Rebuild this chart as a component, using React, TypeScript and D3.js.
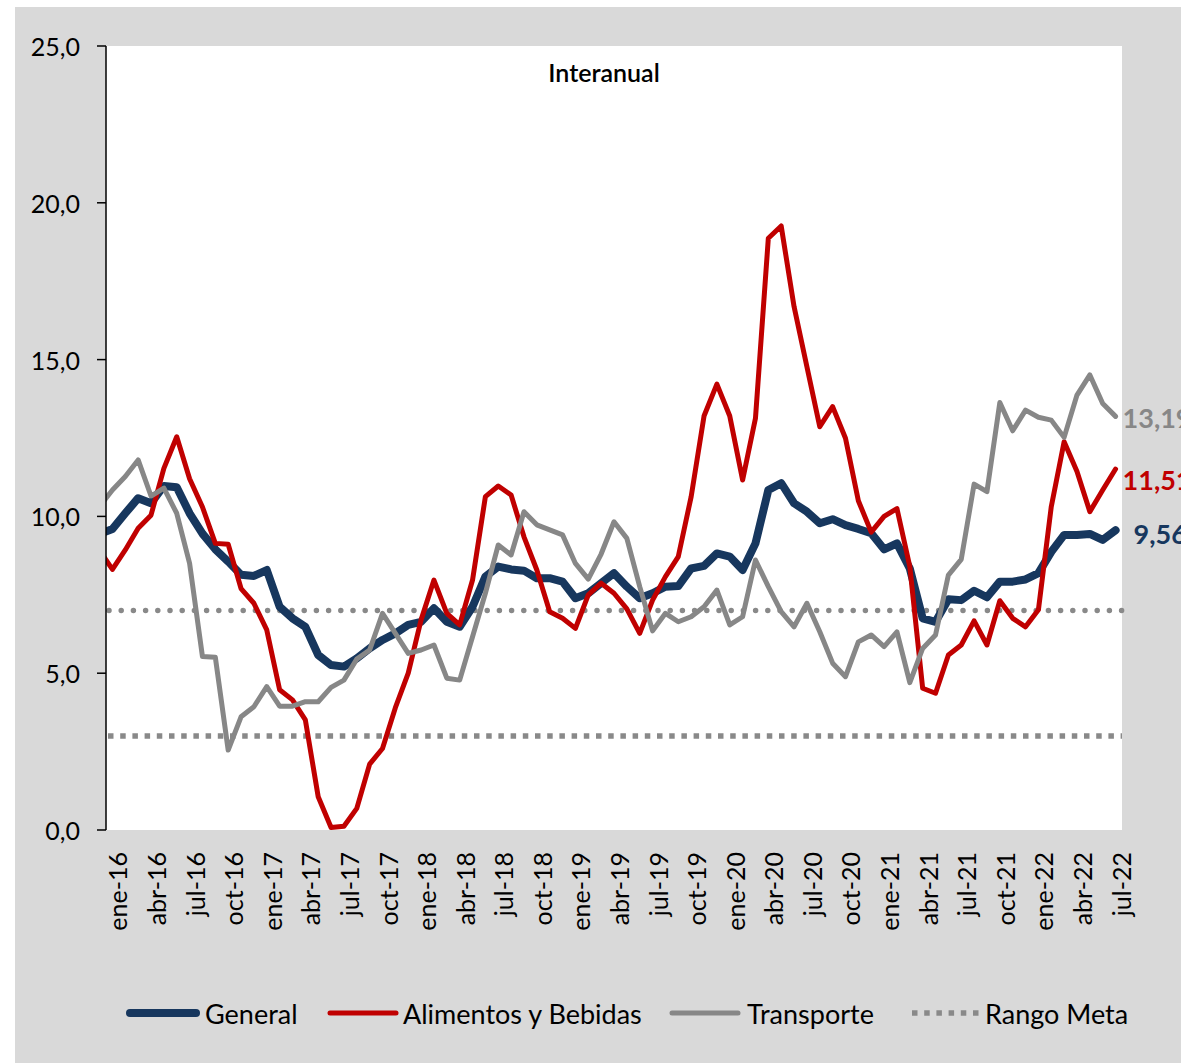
import React from 'react';
import * as d3 from 'd3';

// monthly series dic-15 .. jul-22 (first value is dic-15, drawn clipped at the axis)
const startLabel = 'dic-15';
const tickLabels = [
  'ene-16', 'abr-16', 'jul-16', 'oct-16',
  'ene-17', 'abr-17', 'jul-17', 'oct-17',
  'ene-18', 'abr-18', 'jul-18', 'oct-18',
  'ene-19', 'abr-19', 'jul-19', 'oct-19',
  'ene-20', 'abr-20', 'jul-20', 'oct-20',
  'ene-21', 'abr-21', 'jul-21', 'oct-21',
  'ene-22', 'abr-22', 'jul-22'
];
const yTicks = [0, 5, 10, 15, 20, 25];

const general = [
  9.44,
  9.6, 10.1, 10.58, 10.42, 10.97, 10.93, 10.1, 9.45, 8.95, 8.56, 8.14, 8.1,
  8.29, 7.12, 6.75, 6.48, 5.58, 5.26, 5.21, 5.47, 5.79, 6.06, 6.27, 6.54,
  6.64, 7.07, 6.64, 6.48, 7.12, 8.08, 8.4, 8.31, 8.27, 8.03, 8.03, 7.92,
  7.39, 7.55, 7.87, 8.19, 7.76, 7.39, 7.55, 7.76, 7.78, 8.34, 8.42, 8.82,
  8.72, 8.29, 9.14, 10.84, 11.06, 10.42, 10.15, 9.78, 9.91, 9.72, 9.6, 9.46,
  8.95, 9.14, 8.34, 6.75, 6.64, 7.36, 7.33, 7.63, 7.42, 7.92, 7.92, 7.99,
  8.19, 8.87, 9.41, 9.41, 9.44, 9.25, 9.56
];
const alimentos = [
  8.91,
  8.31, 8.93, 9.62, 10.04, 11.53, 12.54, 11.2, 10.3, 9.14, 9.11, 7.7, 7.23,
  6.38, 4.47, 4.15, 3.51, 1.06, 0.08, 0.12, 0.69, 2.1, 2.6, 3.9, 5.0,
  6.7, 7.97, 6.91, 6.54, 7.97, 10.63, 10.97, 10.68, 9.35, 8.29, 6.96, 6.75,
  6.43, 7.5, 7.87, 7.55, 7.05, 6.27, 7.33, 8.08, 8.72, 10.63, 13.2, 14.22,
  13.2, 11.16, 13.13, 18.87, 19.26, 16.69, 14.77, 12.86, 13.5, 12.49, 10.5, 9.5,
  10.0, 10.25, 8.4, 4.52, 4.36, 5.58, 5.9, 6.67, 5.9, 7.31, 6.75, 6.48,
  7.02, 10.31, 12.38, 11.43, 10.15, 10.84, 11.51
];
const transporte = [
  10.32,
  10.84, 11.27, 11.8, 10.65, 10.9, 10.1, 8.5, 5.53, 5.51, 2.55, 3.61, 3.93,
  4.57, 3.95, 3.95, 4.09, 4.09, 4.55, 4.78, 5.45, 5.74, 6.91, 6.27, 5.63,
  5.74, 5.9, 4.84, 4.78, 6.16, 7.55, 9.09, 8.77, 10.15, 9.73, 9.57, 9.41,
  8.5, 8.0, 8.8, 9.83, 9.3, 7.76, 6.35, 6.91, 6.64, 6.8, 7.12, 7.65,
  6.54, 6.8, 8.61, 7.76, 6.96, 6.48, 7.23, 6.32, 5.32, 4.89, 6.0, 6.22,
  5.85, 6.32, 4.7, 5.79, 6.22, 8.13, 8.63, 11.03, 10.79, 13.63, 12.73, 13.39,
  13.16, 13.07, 12.52, 13.87, 14.51, 13.6, 13.19
];
const rangoMeta = [3, 7];

const seriesNames = ['General', 'Alimentos y Bebidas', 'Transporte'];
const seriesColors = ['#17375E', '#C00000', '#878787'];
const seriesWidths = [8, 5, 5];
const endLabels = ['9,56', '11,51', '13,19'];

const W = 1181;
const H = 1063;
const FONT = 'Lato, "Open Sans", sans-serif';

export default function App() {
  const nMonths = general.length - 1; // months from ene-16
  const x = d3.scaleLinear().domain([-0.5, nMonths - 0.5]).range([106, 1122]);
  const y = d3.scaleLinear().domain([0, 25]).range([830, 46]);

  const line = d3.line<number>()
    .x((_, i) => x(i - 1))
    .y(d => y(d));

  const allSeries = [general, alimentos, transporte];
  const fmt = (v: number) => v.toFixed(1).replace('.', ',');
  const gridGray = '#898989';

  // end label positions
  const endOffsets = [
    { dx: 18, dy: 3 },
    { dx: 7, dy: 10 },
    { dx: 7, dy: 1 }
  ];

  const legendItems = [
    { x: 130, tx: 205, i: 0 },
    { x: 330, tx: 403, i: 1 },
    { x: 672, tx: 747, i: 2 },
    { x: 912, tx: 985, i: 3 }
  ];

  return (
    <svg width={W} height={H} style={{ position: 'absolute', left: 0, top: 0 }}
      fontFamily={FONT}>
      <defs>
        <clipPath id="plotClip">
          <rect x={x(-0.5)} y={0} width={x(nMonths - 0.5) - x(-0.5)} height={H} />
        </clipPath>
      </defs>
      <rect x={0} y={0} width={W} height={H} fill="#fff" />
      <rect x={15} y={7} width={W - 15} height={H - 7} fill="#D9D9D9" />
      <rect x={x(-0.5)} y={y(25)} width={x(nMonths - 0.5) - x(-0.5)} height={y(0) - y(25)} fill="#fff" />

      {/* Rango Meta */}
      <line x1={x(-0.5) + 3} x2={x(nMonths - 0.5)} y1={y(rangoMeta[1])} y2={y(rangoMeta[1])}
        stroke={gridGray} strokeWidth={5.5} strokeDasharray="0 12.2" strokeLinecap="round" />
      <line x1={x(-0.5) + 2} x2={x(nMonths - 0.5)} y1={y(rangoMeta[0])} y2={y(rangoMeta[0])}
        stroke={gridGray} strokeWidth={5.5} strokeDasharray="5.5 6.7" />

      {/* series */}
      <g clipPath="url(#plotClip)">
        {allSeries.map((s, k) => (
          <path key={k} d={line(s) || ''} fill="none" stroke={seriesColors[k]}
            strokeWidth={seriesWidths[k]} strokeLinejoin="round" strokeLinecap="round" />
        ))}
      </g>

      {/* y axis */}
      <line x1={x(-0.5)} x2={x(-0.5)} y1={y(25)} y2={y(0)} stroke="#000" strokeWidth={1.5} />
      {yTicks.map(t => (
        <g key={t}>
          <line x1={97} x2={x(-0.5)} y1={y(t)} y2={y(t)} stroke="#000" strokeWidth={1.5} />
          <text x={80} y={y(t)} textAnchor="end" dominantBaseline="central"
            fontSize={25} fill="#000">{fmt(t)}</text>
        </g>
      ))}

      {/* x labels */}
      {tickLabels.map((lab, j) => {
        const cx = x(j * 3) + 5;
        return (
          <text key={lab} transform={`translate(${cx},852) rotate(-90)`}
            textAnchor="end" dominantBaseline="central" fontSize={25} fill="#000">{lab}</text>
        );
      })}

      {/* title */}
      <text x={604} y={72} textAnchor="middle" dominantBaseline="central"
        fontSize={25} fontWeight={600} fill="#000">Interanual</text>

      {/* end labels */}
      {allSeries.map((s, k) => (
        <text key={k} x={x(nMonths - 1) + endOffsets[k].dx}
          y={y(s[s.length - 1]) + endOffsets[k].dy} dominantBaseline="central"
          fontSize={27} fontWeight={700} fill={seriesColors[k]}>{endLabels[k]}</text>
      ))}

      {/* legend */}
      {legendItems.map(it => (
        <g key={it.i}>
          {it.i < 3 ? (
            <line x1={it.x} x2={it.x + 66} y1={1013} y2={1013} stroke={seriesColors[it.i]}
              strokeWidth={seriesWidths[it.i]} strokeLinecap="round" />
          ) : (
            <line x1={it.x} x2={it.x + 68} y1={1013} y2={1013} stroke={gridGray}
              strokeWidth={5.5} strokeDasharray="5.5 6.7" />
          )}
          <text x={it.tx} y={1013} dominantBaseline="central" fontSize={27} fill="#000">
            {it.i < 3 ? seriesNames[it.i] : 'Rango Meta'}
          </text>
        </g>
      ))}
    </svg>
  );
}
